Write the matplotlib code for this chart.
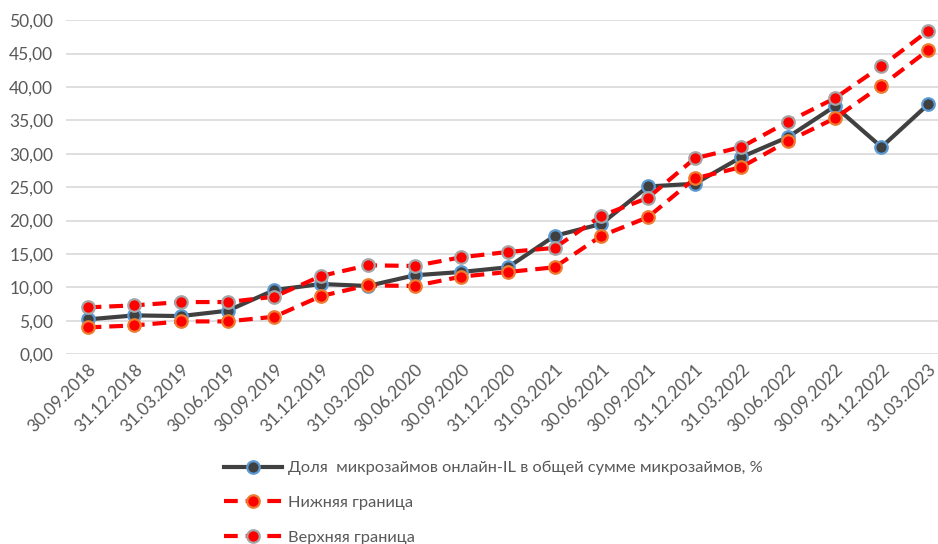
import matplotlib
matplotlib.use("Agg")
import matplotlib.pyplot as plt
import numpy as np

plt.rcParams['font.family'] = ['Lato', 'Open Sans', 'DejaVu Sans']

dates = ["30.09.2018", "31.12.2018", "31.03.2019", "30.06.2019", "30.09.2019",
         "31.12.2019", "31.03.2020", "30.06.2020", "30.09.2020", "31.12.2020",
         "31.03.2021", "30.06.2021", "30.09.2021", "31.12.2021", "31.03.2022",
         "30.06.2022", "30.09.2022", "31.12.2022", "31.03.2023"]
dolya = [5.2, 5.8, 5.7, 6.5, 9.6, 10.5, 10.2, 11.8, 12.3, 13.0,
         17.7, 19.5, 25.1, 25.5, 29.5, 32.5, 37.1, 31.0, 37.4]
nizh = [4.0, 4.3, 4.9, 4.9, 5.6, 8.7, 10.3, 10.2, 11.6, 12.3,
        13.0, 17.7, 20.5, 26.3, 28.0, 31.9, 35.3, 40.2, 45.5]
verh = [7.0, 7.3, 7.8, 7.8, 8.6, 11.7, 13.3, 13.2, 14.5, 15.3,
        15.9, 20.7, 23.4, 29.3, 31.0, 34.8, 38.3, 43.1, 48.4]

fig = plt.figure(figsize=(9.38, 5.44), dpi=100)
ax = fig.add_axes([0.070, 0.349, 0.930, 0.614])
x = np.arange(len(dates))

ax.plot(x, dolya, color="#404040", lw=3, marker="o", ms=9,
        mfc="#404040", mec="#5B9BD5", mew=1.6, zorder=3,
        label="Доля  микрозаймов онлайн-IL в общей сумме микрозаймов, %")
ax.plot(x, nizh, color="#FF0000", lw=3, ls=(0, (3.3, 1.9)), marker="o", ms=9,
        mfc="#FF0000", mec="#ED7D31", mew=1.6, zorder=4, label="Нижняя граница")
ax.plot(x, verh, color="#FF0000", lw=3, ls=(0, (3.3, 1.9)), marker="o", ms=9,
        mfc="#FF0000", mec="#A5A5A5", mew=1.6, zorder=4, label="Верхняя граница")

ax.set_ylim(0, 50)
ax.set_yticks(np.arange(0, 51, 5))
ax.set_yticklabels([f"{v:.2f}".replace(".", ",") for v in np.arange(0, 51, 5)])
ax.set_xlim(-0.47, 18.21)
ax.set_xticks(x)
ax.set_xticklabels(dates, rotation=45, ha="right", rotation_mode="anchor")
ax.grid(axis="y", color="#D9D9D9", lw=1.2)
ax.set_axisbelow(True)
for s in ax.spines.values():
    s.set_visible(False)
ax.tick_params(length=0, labelsize=12.5, colors="#595959", pad=9)
ax.tick_params(axis="x", pad=5)

fig.legend(loc="upper left", bbox_to_anchor=(0.232, 0.165), frameon=False,
           fontsize=11.8, labelcolor="#595959", handlelength=3.5,
           labelspacing=1.25, borderaxespad=0, handletextpad=0.4)

fig.savefig("out.png", dpi=100)
